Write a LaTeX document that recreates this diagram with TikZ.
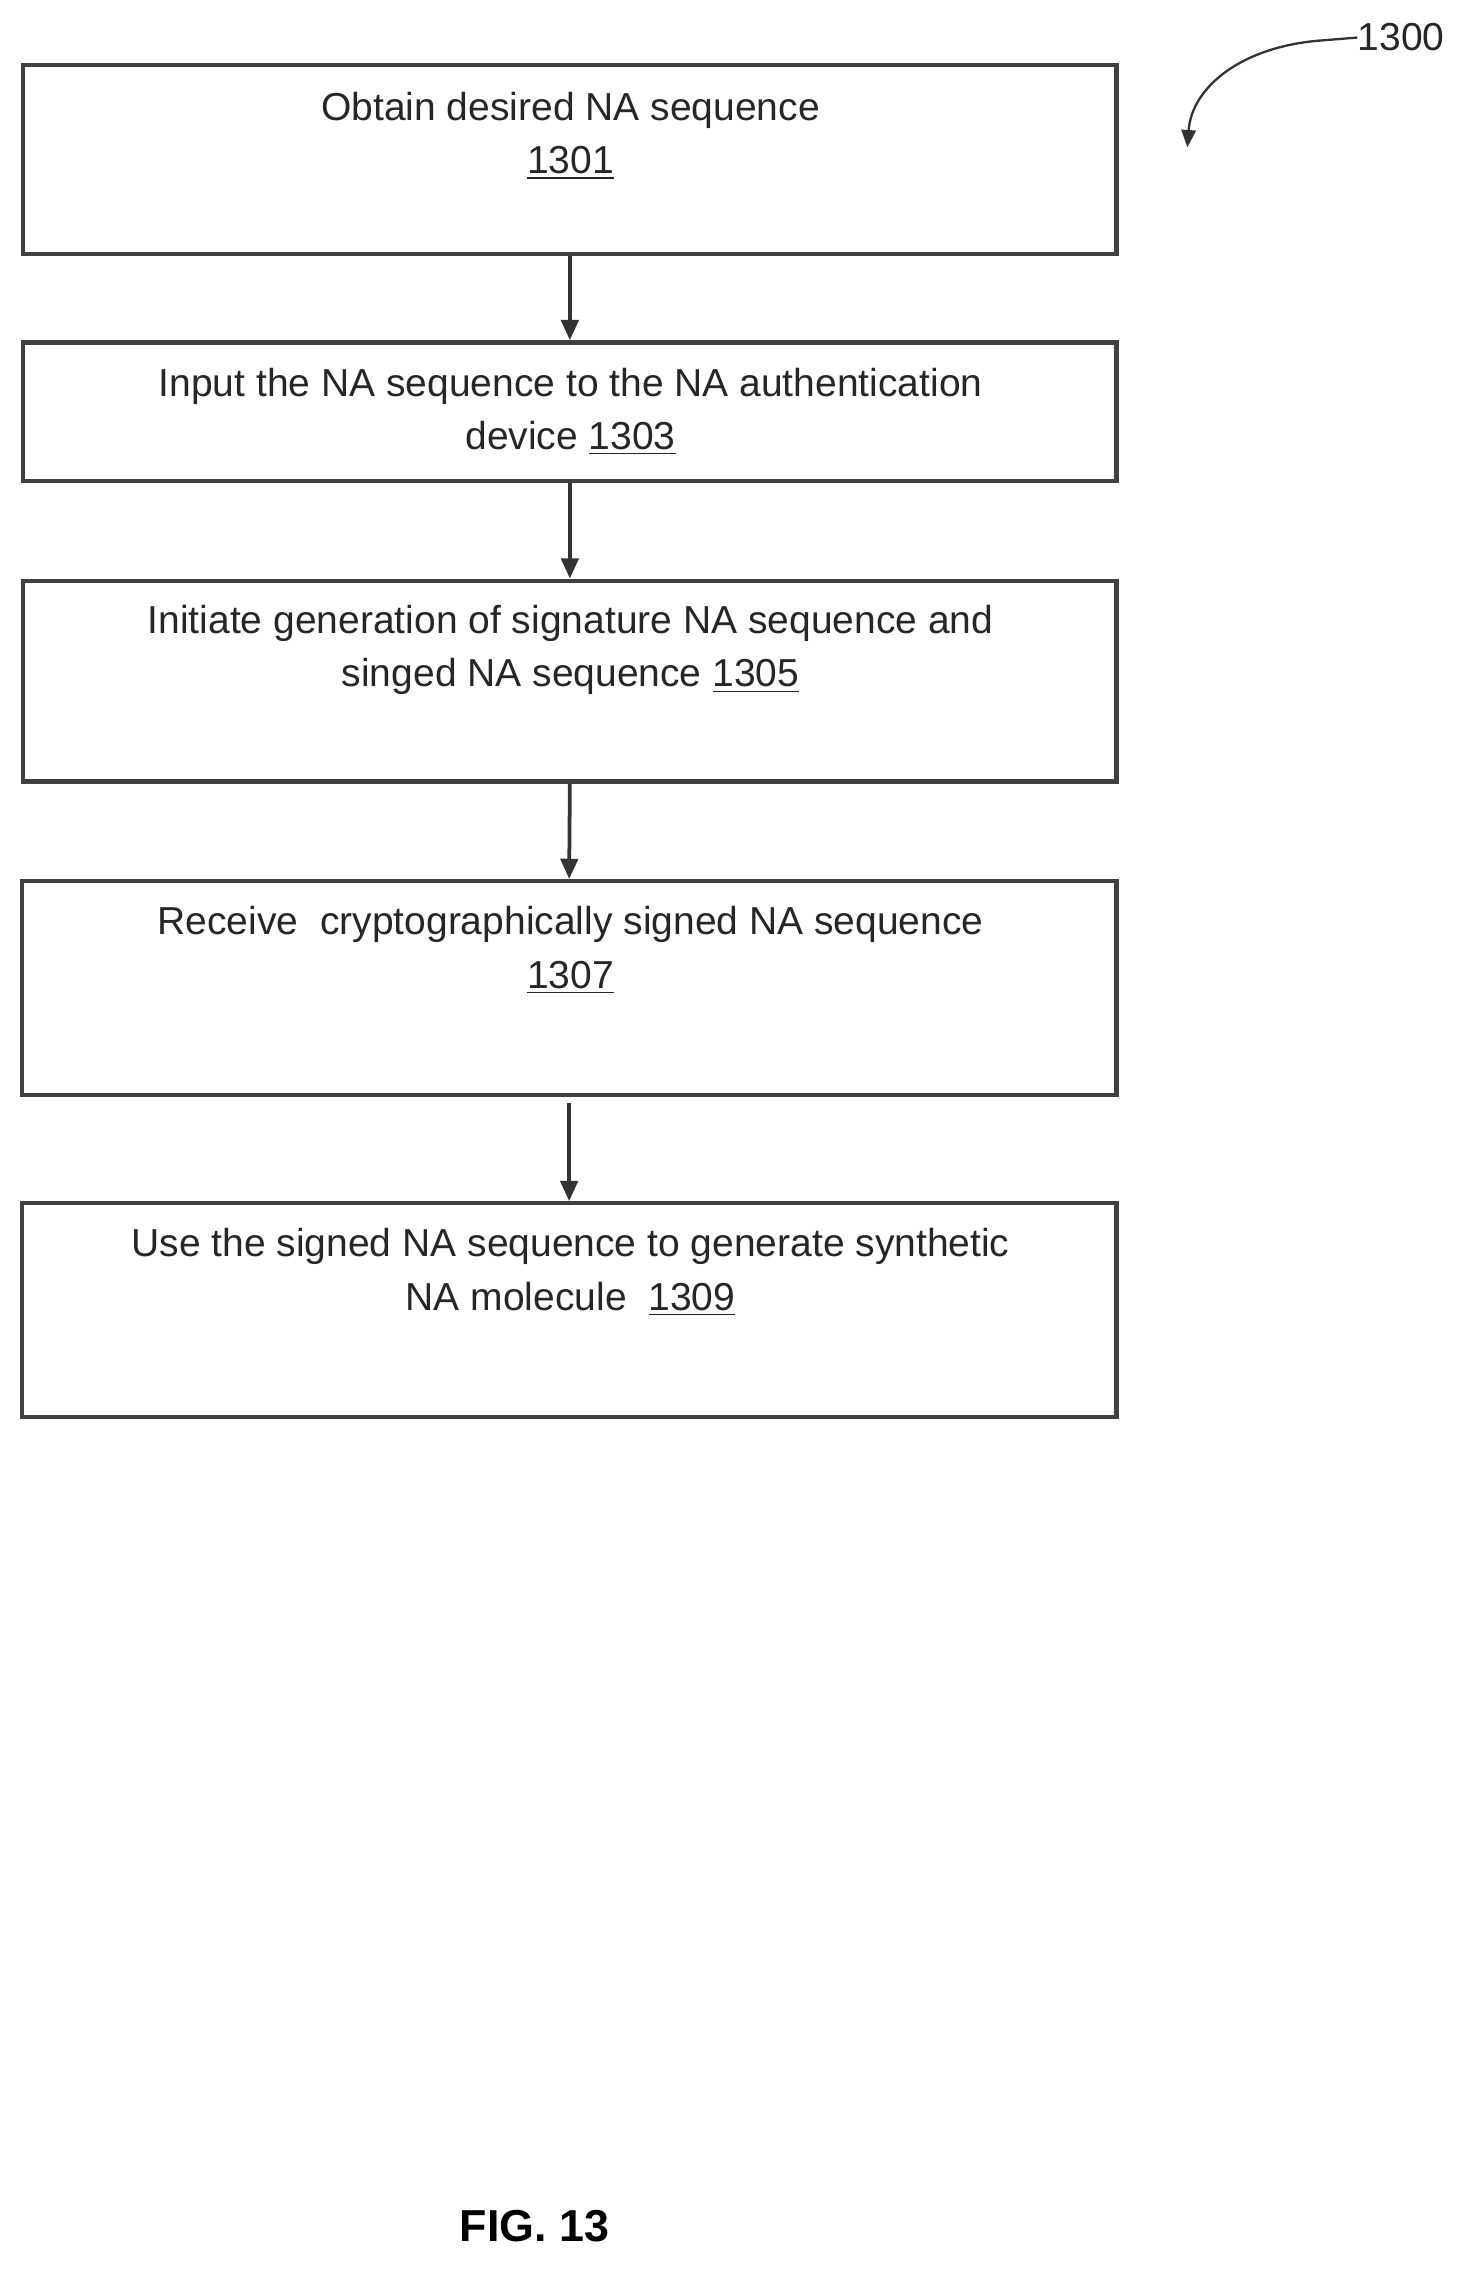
\documentclass[tikz,border=0pt]{standalone}
\usepackage{fontspec}
\setmainfont{Liberation Sans}
\usetikzlibrary{arrows.meta}
\begin{document}
\begin{tikzpicture}[x=0.5pt,y=-0.5pt,
  box/.style={draw=black!75,line width=1.5pt},
  txt/.style={align=center,font=\fontsize{13.5}{18.5}\selectfont,inner sep=0pt,text=black!85},
  arr/.style={draw=black!80,line width=1.3pt,-{Triangle[length=7pt,width=6pt]}}]
\useasboundingbox (0,0) rectangle (1024,1577);
\node[box,minimum width=378.5pt,minimum height=65.5pt] (b1) at (394.5,110.5) {};
\node[box,minimum width=378.5pt,minimum height=48pt] (b2) at (394.5,285) {};
\node[box,minimum width=378.5pt,minimum height=69.5pt] (b3) at (394.5,471.5) {};
\node[box,minimum width=379pt,minimum height=74pt] (b4) at (394,684) {};
\node[box,minimum width=379pt,minimum height=74pt] (b5) at (394,907) {};
\node[txt] (t1) at (395,94) {Obtain desired NA sequence\\\underline{1301}};
\node[txt] (t2) at (395,285) {Input the NA sequence to the NA authentication\\device \underline{1303}};
\node[txt] (t3) at (395,450) {Initiate generation of signature NA sequence and\\singed NA sequence \underline{1305}};
\node[txt] (t4) at (395,658) {Receive\ \ cryptographically signed NA sequence\\\underline{1307}};
\node[txt] (t5) at (395,881) {Use the signed NA sequence to generate synthetic\\NA molecule\ \ \underline{1309}};
\draw[arr] (b1.south) -- (b2.north);
\draw[arr] (b2.south) -- (b3.north);
\draw[arr] (b3.south) -- (b4.north);
\draw[arr] ([yshift=-2pt]b4.south) -- (b5.north);
\node[txt] (lab) at (970,26) {1300};
\coordinate (tip) at (822,102);
\draw[black!80,line width=0.8pt,-{Triangle[length=6pt,width=5pt]}] (lab.west) -- (915,28) .. controls (860,32) and (825,60) .. (tip);
\node[font=\bfseries\fontsize{15.5}{18}\selectfont,inner sep=0pt] (fig) at (370,1541) {FIG. 13};
\end{tikzpicture}
\end{document}
